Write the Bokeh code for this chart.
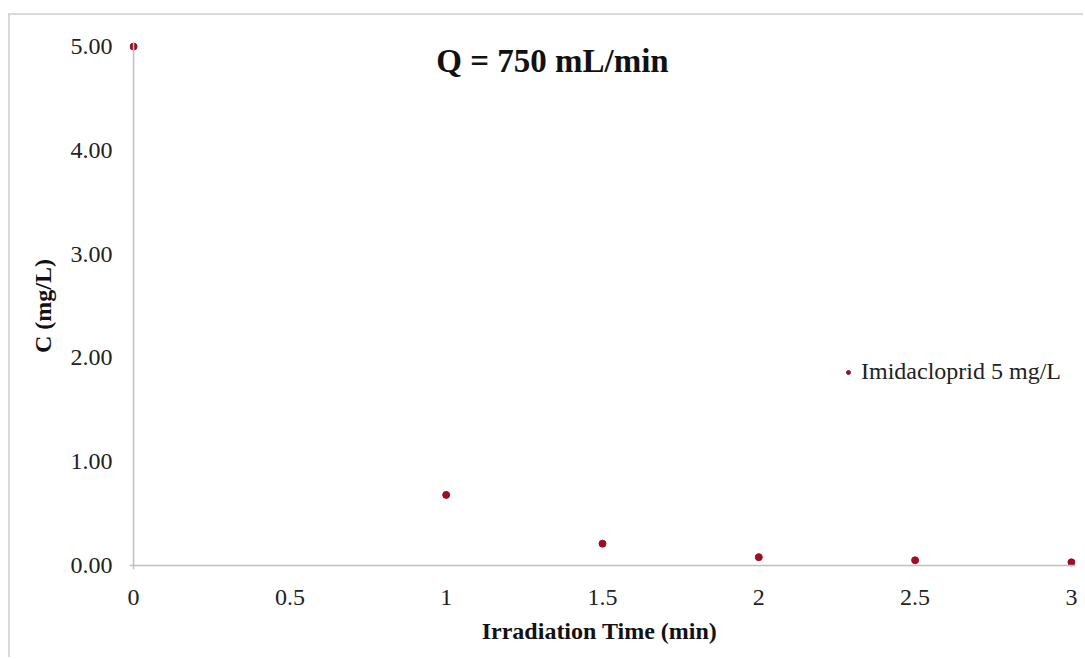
from bokeh.plotting import figure
from bokeh.models import (Range1d, FixedTicker, NumeralTickFormatter,
                          CustomJSTickFormatter, Span, Label, Legend, LegendItem)
from bokeh.embed import file_html
from bokeh.resources import INLINE

# Data
time_min = [0, 1, 1.5, 2, 2.5, 3]
conc_mg_l = [5.00, 0.68, 0.21, 0.08, 0.05, 0.03]
x_ticks = [0, 0.5, 1, 1.5, 2, 2.5, 3]
y_ticks = [0, 1, 2, 3, 4, 5]
series_name = "Imidacloprid 5 mg/L"
title_text = "Q = 750 mL/min"

FONT = "Liberation Serif"
RED = "#9a0f24"

p = figure(width=1075, height=644, output_backend="svg", toolbar_location=None,
           x_range=Range1d(-0.013, 3.013), y_range=Range1d(-0.039, 5.039),
           min_border_left=119, min_border_right=10, min_border_top=27, min_border_bottom=90)
p.margin = (13, 0, 0, 8)
p.styles = {"border-top": "2px solid #d9d9d9", "border-left": "2px solid #d9d9d9"}
p.outline_line_color = None
p.grid.visible = False
p.background_fill_color = "white"
p.border_fill_color = "white"

for ax in (p.xaxis[0], p.yaxis[0]):
    ax.axis_line_color = None
    ax.major_tick_line_color = None
    ax.minor_tick_line_color = None
    ax.major_tick_out = 0
    ax.major_label_text_font = FONT
    ax.major_label_text_font_size = "24px"
    ax.major_label_text_color = "#222222"
    ax.axis_label_text_font = FONT
    ax.axis_label_text_font_style = "bold"
    ax.axis_label_text_font_size = "24px"
    ax.axis_label_text_color = "#111111"

p.xaxis.ticker = FixedTicker(ticks=x_ticks)
p.xaxis.formatter = CustomJSTickFormatter(code="return String(tick);")
p.xaxis.major_label_standoff = 20
p.xaxis.axis_label = "Irradiation  Time (min)"
p.xaxis.axis_label_standoff = 10

p.yaxis.ticker = FixedTicker(ticks=y_ticks)
p.yaxis.formatter = NumeralTickFormatter(format="0.00")
p.yaxis.major_label_standoff = 17
p.yaxis.axis_label = "C (mg/L)"
p.yaxis.axis_label_standoff = 12

# axis lines at zero
p.add_layout(Span(location=0, dimension="width", line_color="#bfbfbf", line_width=1.5))
p.add_layout(Span(location=0, dimension="height", line_color="#bfbfbf", line_width=1.5))

r = p.scatter(time_min, conc_mg_l, size=7, color=RED, marker="circle")

legend = Legend(items=[LegendItem(label=series_name, renderers=[r])],
                location=(714, 184), glyph_width=10, glyph_height=10, padding=0, margin=0,
                label_standoff=8, label_text_font=FONT, label_text_font_size="24px",
                label_text_color="#222222", background_fill_alpha=0, border_line_color=None)
p.add_layout(legend)

p.add_layout(Label(x=1.34, y=4.86, text=title_text, text_font=FONT, text_font_style="bold",
                   text_font_size="33px", text_align="center", text_baseline="middle",
                   text_color="#111111"))

open("out.html", "w").write(file_html(p, INLINE))
